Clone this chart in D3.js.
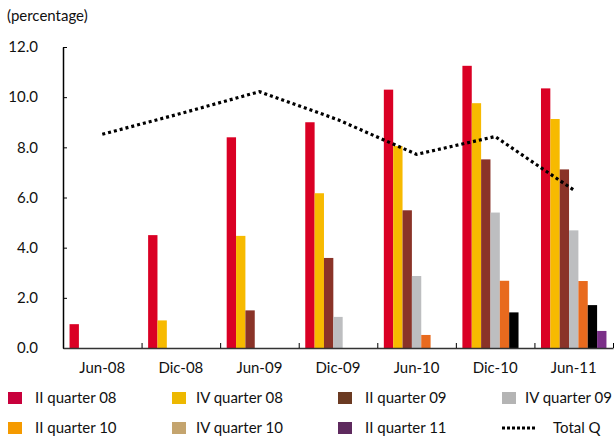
<!DOCTYPE html>
<html>
<head>
<meta charset="utf-8">
<script src="https://cdn.jsdelivr.net/npm/d3@7"></script>
<style>
  body { margin: 0; background: #fff; }
  text { font-family: Lato, "Open Sans", sans-serif; fill: #111; }
</style>
</head>
<body>
<div id="chart"></div>
<script>
// periods on the x axis
const periods = ["Jun-08", "Dic-08", "Jun-09", "Dic-09", "Jun-10", "Dic-10", "Jun-11"]

// one row per cohort, value per period (null = not yet)
const seriesNames = ["II quarter 08", "IV quarter 08", "II quarter 09", "IV quarter 09",
                     "II quarter 10", "IV quarter 10", "II quarter 11"]
const q208 = [0.95, 4.5, 8.4, 9.0, 10.3, 11.25, 10.35]
const q408 = [null, 1.1, 4.47, 6.17, 8.05, 9.76, 9.13]
const q209 = [null, null, 1.5, 3.59, 5.49, 7.52, 7.12]
const q409 = [null, null, null, 1.24, 2.87, 5.4, 4.69]
const q210 = [null, null, null, null, 0.52, 2.68, 2.67]
const q410 = [null, null, null, null, null, 1.42, 1.71]
const q211 = [null, null, null, null, null, null, 0.68]
const totalQ = [8.52, 9.35, 10.22, 9.1, 7.72, 8.43, 6.3]

const yTicks = [0, 2, 4, 6, 8, 10, 12]

const barColors = ["#da0024", "#f7ba00", "#8a3328", "#bdbec0", "#e86a1e", "#000000", "#7b3088"]
const legendColors = ["#c8003c", "#edb800", "#6b3a22", "#b4b4b4", "#f59a00", "#c4a46e", "#5e2a5e"]

const seriesValues = [q208, q408, q209, q409, q210, q410, q211]

let W = 614, H = 440
let svg = d3.select("#chart").append("svg")
  .attr("width", W).attr("height", H)

let x = d3.scaleBand().domain(periods).range([63, 613]).padding(0)
let xs = d3.scaleBand().domain(seriesNames).range([0, x.bandwidth()])
  .paddingInner(0).paddingOuter(0.7)
let y = d3.scaleLinear().domain([0, 12]).range([348, 47])

// bars
let groups = svg.selectAll("g.period")
  .data(periods)
  .enter().append("g")
  .attr("class", "period")
  .attr("transform", (d) => "translate(" + x(d) + ",0)")

groups.selectAll("rect")
  .data((p, i) => seriesNames.map((s, k) => ({ s: s, k: k, v: seriesValues[k][i] }))
                              .filter(d => d.v != null))
  .enter().append("rect")
  .attr("x", d => xs(d.s))
  .attr("width", xs.bandwidth())
  .attr("y", d => y(d.v))
  .attr("height", d => y(0) - y(d.v))
  .attr("fill", d => barColors[d.k])

// y axis
let yAxis = svg.append("g")
  .attr("transform", "translate(63,0)")
  .call(d3.axisLeft(y).tickValues(yTicks).tickSize(-4).tickSizeOuter(0)
        .tickFormat(d3.format(".1f")).tickPadding(25))
yAxis.select(".domain").attr("stroke", "#000").attr("stroke-width", 1.5)
yAxis.selectAll(".tick line").attr("stroke", "#000")
yAxis.selectAll("text").attr("font-size", 15).attr("font-family", "Lato").attr("fill", "#111")

// x axis: boundary ticks + labels at band centres
let xb = d3.scaleLinear().domain([0, periods.length]).range(x.range())
let xAxis = svg.append("g")
  .attr("transform", "translate(0," + y(0) + ")")
  .call(d3.axisBottom(xb).ticks(periods.length).tickSize(-5).tickSizeOuter(0).tickFormat(""))
xAxis.select(".domain").attr("stroke", "#333").attr("stroke-width", 1.5)
xAxis.selectAll(".tick line").attr("stroke", "#000")

let xLab = svg.append("g")
  .attr("transform", "translate(0," + y(0) + ")")
  .call(d3.axisBottom(x).tickSize(0).tickPadding(14))
xLab.select(".domain").remove()
xLab.selectAll("text").attr("font-size", 15).attr("font-family", "Lato").attr("fill", "#111")

// total line
let line = d3.line()
  .x((d, i) => x(periods[i]) + x.bandwidth() / 2)
  .y(d => y(d))
svg.append("path")
  .datum(totalQ)
  .attr("d", line)
  .attr("fill", "none")
  .attr("stroke", "#000")
  .attr("stroke-width", 3.2)
  .attr("stroke-dasharray", "3,3")

svg.append("text")
  .attr("x", 7).attr("y", 21)
  .attr("font-size", 15)
  .text("(percentage)")

// legend
let legX = [8, 172, 338, 502]
let legY = [392, 422]
let items = seriesNames.map((s, k) => ({ name: s, k: k }))
items.push({ name: "Total Q", k: -1 })

let leg = svg.selectAll("g.leg")
  .data(items)
  .enter().append("g")
  .attr("class", "leg")
  .attr("transform", (d, i) => "translate(" + legX[i % 4] + "," + legY[Math.floor(i / 4)] + ")")

leg.filter(d => d.k >= 0).append("rect")
  .attr("width", 14).attr("height", 12)
  .attr("fill", d => legendColors[d.k])
leg.filter(d => d.k >= 0).append("text")
  .attr("x", (d, i) => [27, 24, 27, 23][i % 4])
  .attr("y", 11)
  .attr("font-size", 15)
  .text(d => d.name)

let tl = leg.filter(d => d.k < 0)
tl.append("line")
  .attr("x1", 0).attr("x2", 35).attr("y1", 6).attr("y2", 6)
  .attr("stroke", "#000").attr("stroke-width", 3)
  .attr("stroke-dasharray", "3,2")
tl.append("text")
  .attr("x", 51).attr("y", 11)
  .attr("font-size", 15)
  .text(d => d.name)
</script>
</body>
</html>
